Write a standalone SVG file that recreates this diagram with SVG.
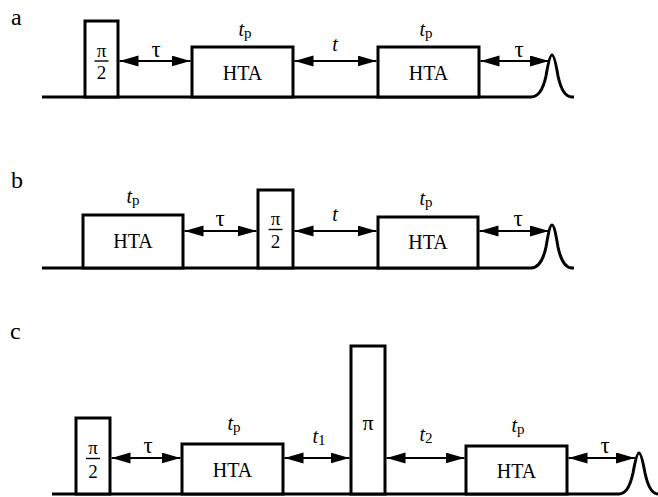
<svg xmlns="http://www.w3.org/2000/svg" width="658" height="497" viewBox="0 0 658 497">
<style>
  .base{fill:none;stroke:#000;stroke-width:3;stroke-linejoin:miter}
  .box{fill:#fff;stroke:#000;stroke-width:3}
  .arr{stroke:#000;stroke-width:1.8;marker-start:url(#ah);marker-end:url(#ah)}
  .frac{stroke:#000;stroke-width:1.4}
  text{font-family:"Liberation Serif","Times New Roman",serif;fill:#000}
  .hta{font-size:20px;text-anchor:middle}
  .sym{font-size:20px;text-anchor:middle}
  .pi{font-size:19px;text-anchor:middle}
  .pibig{font-size:22px;text-anchor:middle}
  .tau{font-size:23px;text-anchor:middle}
  .it{font-style:italic}
  .sub{font-size:15px;font-style:normal}
  .pl{font-size:24px}
</style>
<defs>
  <marker id="ah" markerUnits="userSpaceOnUse" markerWidth="20" markerHeight="12" refX="19" refY="5.5" orient="auto-start-reverse">
    <path d="M0,0 L19,5.5 L0,11 z" fill="#000"/>
  </marker>
</defs>

<!-- panel labels -->
<text class="pl" x="11" y="25">a</text>
<text class="pl" x="11" y="188">b</text>
<text class="pl" x="10" y="339">c</text>

<!-- baselines and echoes -->
<g id="baselines">
  <path class="base" d="M42,97 H531 C538,97 543,90 546,76 C548,64 550,55 552,55 C554,55 556,64 558,76 C561,90 565,97 572,97 H574"/>
  <path class="base" d="M42,268 H531 C538,268 543,261 546,247 C548,235 550,225 552,225 C554,225 556,235 558,247 C561,261 565,268 572,268 H574"/>
  <path class="base" d="M52,494 H619 C626,494 630,487 633,473 C635,462 637,453 639,453 C641,453 643,462 645,473 C648,487 652,494 658,494"/>
</g>

<!-- panel a -->
<g id="a-pi2">
  <rect class="box" x="85" y="21" width="33" height="76"/>
  <text class="pi" x="101.5" y="56.5">π</text>
  <line class="frac" x1="94.5" y1="61" x2="108.5" y2="61"/>
  <text class="pi" x="101.5" y="78.5">2</text>
</g>
<g id="a-hta1">
  <rect class="box" x="192" y="47" width="101" height="50"/>
  <text class="hta" x="242.5" y="80">HTA</text>
  <text class="sym" x="245" y="36"><tspan class="it">t</tspan><tspan class="sub" dy="2">p</tspan></text>
</g>
<g id="a-hta2">
  <rect class="box" x="378" y="47" width="101" height="50"/>
  <text class="hta" x="428.5" y="80">HTA</text>
  <text class="sym" x="426" y="36"><tspan class="it">t</tspan><tspan class="sub" dy="2">p</tspan></text>
</g>

<!-- panel b -->
<g id="b-hta1">
  <rect class="box" x="83" y="215" width="100" height="53"/>
  <text class="hta" x="133" y="248">HTA</text>
  <text class="sym" x="133" y="203"><tspan class="it">t</tspan><tspan class="sub" dy="2">p</tspan></text>
</g>
<g id="b-pi2">
  <rect class="box" x="258" y="190" width="35" height="78"/>
  <text class="pi" x="275.5" y="224.5">π</text>
  <line class="frac" x1="268.5" y1="229.5" x2="282.5" y2="229.5"/>
  <text class="pi" x="275.5" y="247.5">2</text>
</g>
<g id="b-hta2">
  <rect class="box" x="378" y="217" width="100" height="51"/>
  <text class="hta" x="428" y="249">HTA</text>
  <text class="sym" x="426" y="205"><tspan class="it">t</tspan><tspan class="sub" dy="2">p</tspan></text>
</g>

<!-- panel c -->
<g id="c-pi2">
  <rect class="box" x="76" y="418" width="34" height="76"/>
  <text class="pi" x="93" y="454">π</text>
  <line class="frac" x1="86" y1="458.5" x2="100" y2="458.5"/>
  <text class="pi" x="93" y="477.5">2</text>
</g>
<g id="c-hta1">
  <rect class="box" x="182" y="444" width="101" height="50"/>
  <text class="hta" x="232.5" y="477">HTA</text>
  <text class="sym" x="234" y="430"><tspan class="it">t</tspan><tspan class="sub" dy="2">p</tspan></text>
</g>
<g id="c-pi">
  <rect class="box" x="351" y="346" width="34" height="148"/>
  <text class="pibig" x="368" y="430">π</text>
</g>
<g id="c-hta2">
  <rect class="box" x="466" y="446" width="101" height="48"/>
  <text class="hta" x="516.5" y="478">HTA</text>
  <text class="sym" x="518" y="432"><tspan class="it">t</tspan><tspan class="sub" dy="2">p</tspan></text>
</g>

<!-- connectors (time intervals) -->
<g id="connectors">
  <line class="arr" x1="119.5" y1="61" x2="190.5" y2="61"/>
  <line class="arr" x1="294.5" y1="61" x2="376.5" y2="61"/>
  <line class="arr" x1="480.5" y1="61" x2="549" y2="61"/>

  <line class="arr" x1="184.5" y1="231" x2="256.5" y2="231"/>
  <line class="arr" x1="294.5" y1="231" x2="376.5" y2="231"/>
  <line class="arr" x1="479.5" y1="231" x2="549" y2="231"/>

  <line class="arr" x1="111.5" y1="458" x2="180.5" y2="458"/>
  <line class="arr" x1="284.5" y1="458" x2="349.5" y2="458"/>
  <line class="arr" x1="386.5" y1="458" x2="464.5" y2="458"/>
  <line class="arr" x1="568.5" y1="458" x2="635" y2="458"/>
</g>

<g id="labels">
  <text class="tau" x="156" y="57">τ</text>
  <text class="sym it" x="335" y="51">t</text>
  <text class="tau" x="519" y="57">τ</text>

  <text class="tau" x="220" y="226">τ</text>
  <text class="sym it" x="335" y="221">t</text>
  <text class="tau" x="518" y="226">τ</text>

  <text class="tau" x="148" y="453">τ</text>
  <text class="sym" x="319" y="443"><tspan class="it">t</tspan><tspan class="sub" dy="2">1</tspan></text>
  <text class="sym" x="426" y="441"><tspan class="it">t</tspan><tspan class="sub" dy="2">2</tspan></text>
  <text class="tau" x="605" y="453">τ</text>
</g>
</svg>
